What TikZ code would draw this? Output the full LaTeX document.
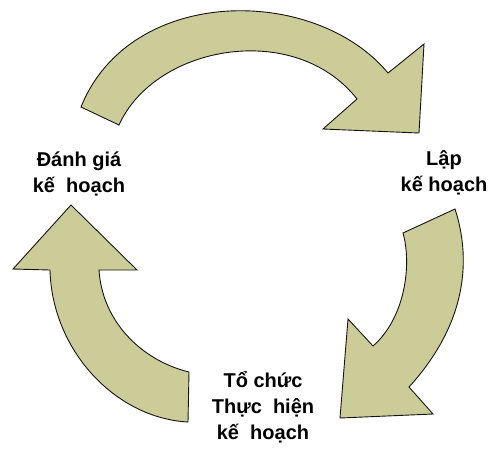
\documentclass[tikz,border=0pt]{standalone}
\usepackage{fontspec}
\setmainfont{Liberation Sans}
\usepackage{xcolor}
\usepackage{tikz}
\definecolor{khaki}{RGB}{204,204,153}
\definecolor{dark}{RGB}{20,20,20}
\tikzset{
    cyclearrow/.style={draw=dark, line width=0.9pt, line join=miter, fill=khaki},
    phase/.style={inner sep=0pt, align=center, font=\fontsize{20}{26}\selectfont\bfseries}
}

\begin{document}
\begin{tikzpicture}[x=1pt, y=-1pt]
    \useasboundingbox (0,0) rectangle (494,448);

    % Arrow: Danh gia -> Lap
    \draw[cyclearrow] (81,107) .. controls (130,-15) and (315,-15) .. (388,73)
        -- (424,44) -- (419,133) -- (323,129) -- (357,99)
        .. controls (295,20) and (155,45) .. (119,125) -- cycle;

    % Arrow: Lap -> To chuc
    \draw[cyclearrow] (455,209) .. controls (470,255) and (470,320) .. (409,387)
        -- (433,414) -- (340,418) -- (348,319) -- (373,346)
        .. controls (405,318) and (412,265) .. (403,233) -- cycle;

    % Arrow: To chuc -> Danh gia
    \draw[cyclearrow] (50,270) .. controls (52,350) and (115,418) .. (188,422)
        -- (189,372) .. controls (140,360) and (102,320) .. (99,270)
        -- (137,270) -- (71,205) -- (13,269) -- cycle;

    % Phases
    \node[phase] (danhgia) at (79,174) {Đánh giá\\kế~ hoạch};
    \node[phase] (lap) at (444,173) {Lập\\kế hoạch};
    \node[phase] (tochuc) at (263,407) {Tổ chức\\Thực~ hiện\\kế~ hoạch};
\end{tikzpicture}
\end{document}
